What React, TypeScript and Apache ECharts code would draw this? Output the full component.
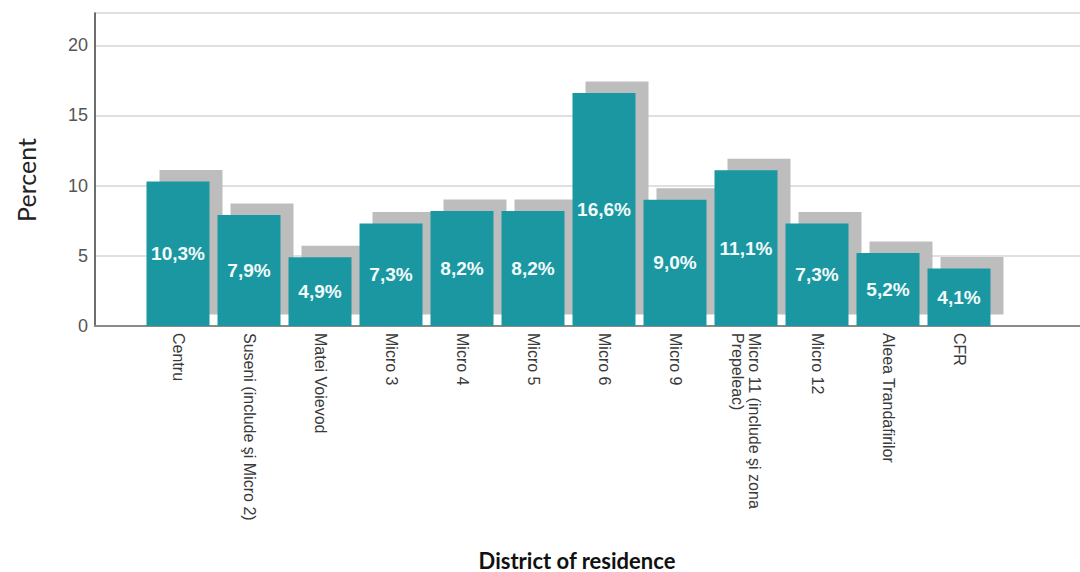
import React, { useEffect, useRef } from "react";
import * as echarts from "echarts";

const categories = [
  "Centru",
  "Suseni (include şi Micro 2)",
  "Matei Voievod",
  "Micro 3",
  "Micro 4",
  "Micro 5",
  "Micro 6",
  "Micro 9",
  "Micro 11 (include şi zona\nPrepeleac)",
  "Micro 12",
  "Aleea Trandafirilor",
  "CFR",
];
const percents = [10.3, 7.9, 4.9, 7.3, 8.2, 8.2, 16.6, 9.0, 11.1, 7.3, 5.2, 4.1];
const yTicks = [0, 5, 10, 15, 20];
const yMax = 22.3;
const xTitle = "District of residence";
const yTitle = "Percent";

const BAR_W = 63;
const SH_X = 13;
const SH_Y = 11.5;

export default function App() {
  const ref = useRef<HTMLDivElement>(null);
  useEffect(() => {
    if (!ref.current) return;
    const chart = echarts.init(ref.current, undefined, { renderer: "svg" });
    const gridTop = 13;
    const gridBottom = 246;
    chart.setOption({
      animation: false,
      backgroundColor: "#ffffff",
      grid: [
        { left: 95, right: 0, top: gridTop, bottom: gridBottom },
        { left: 142.5, right: 85.5, top: gridTop, bottom: gridBottom },
      ],
      xAxis: [
        {
          gridIndex: 0,
          type: "value",
          min: 0,
          max: 1,
          position: "bottom",
          axisLine: { show: true, onZero: false, lineStyle: { color: "#4a4a4a", width: 1.6 } },
          axisTick: { show: false },
          axisLabel: { show: false },
          splitLine: { show: false },
        },
        {
          gridIndex: 0,
          type: "value",
          min: 0,
          max: 1,
          position: "top",
          axisLine: { show: true, lineStyle: { color: "#8a8a8a", width: 2 } },
          axisTick: { show: false },
          axisLabel: { show: false },
          splitLine: { show: false },
        },
        {
          gridIndex: 1,
          type: "category",
          data: categories,
          axisLine: { show: false },
          axisTick: { show: false },
          axisLabel: {
            rotate: -90,
            interval: 0,
            margin: 7,
            color: "#3a3a3a",
            fontSize: 16,
            lineHeight: 17,
            fontFamily: "Liberation Sans, Arial, sans-serif",
          },
        },
      ],
      yAxis: [
        {
          gridIndex: 0,
          type: "value",
          min: yTicks[0],
          max: yMax,
          interval: 5,
          axisLine: { show: true, lineStyle: { color: "#4a4a4a", width: 1.6 } },
          axisTick: { show: false },
          axisLabel: {
            showMaxLabel: false,
            color: "#555555",
            fontSize: 18,
            margin: 7,
            fontFamily: "Liberation Sans, Arial, sans-serif",
          },
          splitLine: { show: true, lineStyle: { color: "#d6d6d6", width: 1.5 } },
        },
        {
          gridIndex: 1,
          type: "value",
          min: yTicks[0],
          max: yMax,
          show: false,
          splitLine: { show: false },
        },
      ],
      series: [
        {
          type: "custom",
          xAxisIndex: 2,
          yAxisIndex: 1,
          z: 1,
          silent: true,
          data: percents.map((v, i) => [i, v]),
          renderItem: (params: any, api: any) => {
            const top = api.coord([api.value(0), api.value(1)]);
            const base = api.coord([api.value(0), 0]);
            return {
              type: "rect",
              shape: {
                x: top[0] - BAR_W / 2 + SH_X,
                y: top[1] - SH_Y,
                width: BAR_W,
                height: base[1] - top[1],
              },
              style: { fill: "#bdbdbd" },
            };
          },
        },
        {
          type: "bar",
          xAxisIndex: 2,
          yAxisIndex: 1,
          z: 2,
          barWidth: BAR_W,
          data: percents,
          itemStyle: { color: "#1b97a1" },
          label: {
            show: true,
            position: "inside",
            color: "#f2fbfb",
            fontSize: 19,
            fontWeight: "bold",
            fontFamily: "Liberation Sans, Arial, sans-serif",
            formatter: (p: any) => p.value.toFixed(1).replace(".", ",") + "%",
          },
        },
      ],
      graphic: [
        {
          type: "text",
          x: 26,
          y: 180,
          rotation: Math.PI / 2,
          style: {
            text: yTitle,
            fill: "#222222",
            fontSize: 25,
            fontFamily: "Lato, Open Sans, sans-serif",
            align: "center",
            verticalAlign: "middle",
          },
        },
        {
          type: "text",
          x: 577,
          y: 560,
          style: {
            text: xTitle,
            fill: "#111111",
            fontSize: 22,
            fontWeight: "bold",
            fontFamily: "Lato, Open Sans, sans-serif",
            align: "center",
            verticalAlign: "middle",
          },
        },
      ],
    });
    return () => chart.dispose();
  }, []);
  return (
    <div
      ref={ref}
      style={{ position: "absolute", left: 0, top: 0, width: 1080, height: 572 }}
    />
  );
}
